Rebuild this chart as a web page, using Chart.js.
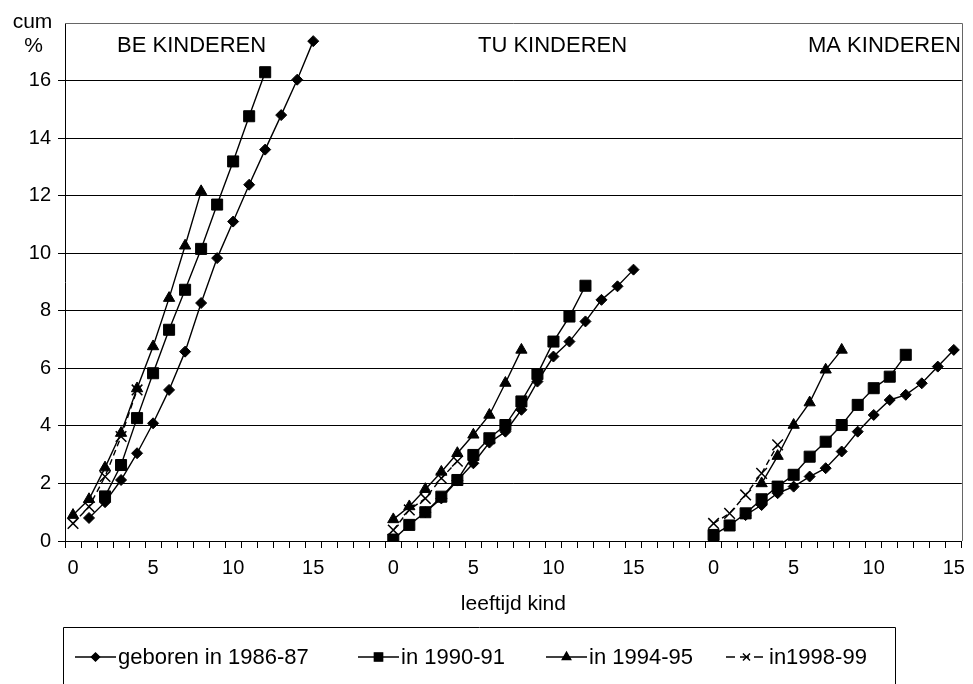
<!DOCTYPE html>
<html><head><meta charset="utf-8">
<script src="https://cdn.jsdelivr.net/npm/chart.js@4.4.0/dist/chart.umd.min.js"></script>
<style>html,body{margin:0;padding:0;background:#fff;}#wrap{width:973px;height:684px;position:relative;}</style>
</head><body><div id="wrap"><canvas id="c" width="973" height="684"></canvas></div>
<script>
// ---- data ----
const ages = [0,1,2,3,4,5,6,7,8,9,10,11,12,13,14,15];
const gapSlots = 4;
const panelTitles = ['BE KINDEREN', 'TU KINDEREN', 'MA KINDEREN'];
const seriesNames = ['geboren in 1986-87', 'in 1990-91', 'in 1994-95', 'in1998-99'];
const xTickLabels = ['0', '5', '10', '15'];
const yTickValues = [0, 2, 4, 6, 8, 10, 12, 14, 16];
const yAxisTitle = ['cum', '%'];
const xAxisTitle = 'leeftijd kind';

// BE KINDEREN
const be1986 = [null, 0.80, 1.35, 2.12, 3.05, 4.09, 5.25, 6.58, 8.27, 9.83, 11.10, 12.38, 13.60, 14.80, 16.03, 17.37];
const be1990 = [null, null, 1.55, 2.64, 4.27, 5.83, 7.34, 8.73, 10.15, 11.69, 13.19, 14.76, 16.29, null, null, null];
const be1994 = [0.90, 1.45, 2.55, 3.75, 5.30, 6.76, 8.44, 10.26, 12.15, null, null, null, null, null, null, null];
const be1998 = [0.61, 1.19, 2.24, 3.63, 5.25, null, null, null, null, null, null, null, null, null, null, null];
// TU KINDEREN
const tu1986 = [null, null, 1.00, 1.48, 2.10, 2.70, 3.42, 3.80, 4.56, 5.54, 6.41, 6.93, 7.63, 8.38, 8.85, 9.43];
const tu1990 = [0.05, 0.56, 1.00, 1.54, 2.12, 2.99, 3.57, 4.03, 4.85, 5.80, 6.93, 7.80, 8.87, null, null, null];
const tu1994 = [0.75, 1.20, 1.80, 2.40, 3.05, 3.69, 4.38, 5.49, 6.64, null, null, null, null, null, null, null];
const tu1998 = [0.38, 1.08, 1.48, 2.18, 2.77, null, null, null, null, null, null, null, null, null, null, null];
// MA KINDEREN
const ma1986 = [null, null, 0.90, 1.25, 1.66, 1.89, 2.24, 2.53, 3.11, 3.80, 4.38, 4.90, 5.08, 5.48, 6.06, 6.64];
const ma1990 = [0.21, 0.54, 0.96, 1.45, 1.89, 2.30, 2.93, 3.45, 4.03, 4.73, 5.31, 5.71, 6.47, null, null, null];
const ma1994 = [null, null, null, 2.00, 2.95, 4.03, 4.81, 5.95, 6.64, null, null, null, null, null, null, null];
const ma1998 = [0.61, 0.96, 1.60, 2.35, 3.34, null, null, null, null, null, null, null, null, null, null, null];

// ---- build library structures ----
const gap = Array(gapSlots).fill(null);
const gapLabels = Array(gapSlots).fill('');
const labels = [].concat(ages.map(String), gapLabels, ages.map(String), gapLabels, ages.map(String));
const join = (a, b, c) => [].concat(a, gap, b, gap, c);

const styles = [
  {pointStyle: 'rectRot', radius: 5.5, dash: []},
  {pointStyle: 'rect', radius: 7.8, dash: []},
  {pointStyle: 'triangle', radius: 6.5, dash: []},
  {pointStyle: 'crossRot', radius: 7.5, dash: [6, 4]}
];
const seriesData = [
  join(be1986, tu1986, ma1986),
  join(be1990, tu1990, ma1990),
  join(be1994, tu1994, ma1994),
  join(be1998, tu1998, ma1998)
];
const datasets = seriesNames.map((name, k) => ({
  label: name,
  data: seriesData[k],
  borderColor: '#000',
  backgroundColor: '#000',
  borderWidth: 1.4,
  borderDash: styles[k].dash,
  pointStyle: styles[k].pointStyle,
  pointRadius: styles[k].radius,
  pointBackgroundColor: '#000',
  pointBorderColor: '#000',
  pointBorderWidth: k === 3 ? 1.5 : 1,
  tension: 0,
  spanGaps: false,
  clip: {left: 8, top: 8, right: 8, bottom: 0}
}));

const FONT = '"Liberation Sans", Arial, sans-serif';

const decor = {
  id: 'decor',
  afterDraw(chart) {
    const ctx = chart.ctx, a = chart.chartArea;
    ctx.save();
    // top & right border
    ctx.strokeStyle = '#666';
    ctx.lineWidth = 1;
    ctx.beginPath();
    ctx.moveTo(a.left, Math.round(a.top) + 0.5);
    ctx.lineTo(Math.round(a.right) + 0.5, Math.round(a.top) + 0.5);
    ctx.lineTo(Math.round(a.right) + 0.5, a.bottom);
    ctx.stroke();
    ctx.fillStyle = '#000';
    // y axis title
    ctx.font = '21px ' + FONT;
    ctx.textAlign = 'center';
    ctx.textBaseline = 'alphabetic';
    ctx.fillText(yAxisTitle[0], 32.5, 28);
    ctx.fillText(yAxisTitle[1], 33.5, 52);
    // panel titles
    ctx.font = '22px ' + FONT;
    ctx.textAlign = 'left';
    const titleX = [117, 478, 808];
    panelTitles.forEach((t, i) => ctx.fillText(t, titleX[i], 52));
    // x axis title
    ctx.font = '21px ' + FONT;
    ctx.textAlign = 'center';
    ctx.fillText(xAxisTitle, (a.left + a.right) / 2, 610);
    // legend box
    ctx.strokeStyle = '#000';
    ctx.beginPath();
    ctx.moveTo(63.5, 700); ctx.lineTo(63.5, 627.5); ctx.lineTo(895.5, 627.5); ctx.lineTo(895.5, 700);
    ctx.stroke();
    const lx = [75, 358, 546, 726];
    const ly = 657;
    ctx.font = '22px ' + FONT;
    ctx.textAlign = 'left';
    ctx.textBaseline = 'middle';
    chart.data.datasets.forEach((ds, k) => {
      ctx.strokeStyle = '#000';
      ctx.lineWidth = 1.4;
      ctx.setLineDash(k === 3 ? [9, 5] : []);
      ctx.beginPath();
      ctx.moveTo(lx[k], ly); ctx.lineTo(lx[k] + 41, ly);
      ctx.stroke();
      ctx.setLineDash([]);
      Chart.helpers.drawPoint(ctx, {
        pointStyle: ds.pointStyle,
        radius: k === 3 ? 5 : ds.pointRadius * 0.75,
        borderWidth: ds.pointBorderWidth,
        rotation: 0
      }, lx[k] + 20.5, ly);
      if (ds.pointStyle !== 'crossRot') { ctx.fill(); }
      ctx.fillStyle = '#000';
      ctx.fillText(ds.label, lx[k] + 43, ly + 1);
    });
    ctx.restore();
  }
};

new Chart(document.getElementById('c'), {
  type: 'line',
  data: {labels, datasets},
  options: {
    responsive: false,
    animation: false,
    layout: {padding: {left: 0, top: 23, right: 5, bottom: 103}},
    plugins: {legend: {display: false}, tooltip: {enabled: false}},
    scales: {
      x: {
        type: 'category',
        offset: true,
        grid: {offset: true, drawOnChartArea: false, tickLength: 7, color: '#000'},
        border: {color: '#000', width: 1},
        ticks: {
          autoSkip: false, maxRotation: 0, minRotation: 0, color: '#000', padding: 8,
          font: {family: FONT, size: 20},
          callback: function (v) { const l = this.getLabelForValue(v); return xTickLabels.includes(l) ? l : ''; }
        },
        afterFit(s) { s.height = 40; }
      },
      y: {
        min: 0, max: 18,
        grid: {color: (c) => c.tick && c.tick.value === 18 ? 'rgba(0,0,0,0)' : '#000', lineWidth: 1, tickLength: 7},
        border: {color: '#000', width: 1},
        ticks: {
          stepSize: 2, color: '#000', padding: 7,
          font: {family: FONT, size: 20},
          callback: (v) => yTickValues.includes(v) ? String(v) : ''
        },
        afterFit(s) { s.width = 65; }
      }
    }
  },
  plugins: [decor]
});
</script></body></html>
